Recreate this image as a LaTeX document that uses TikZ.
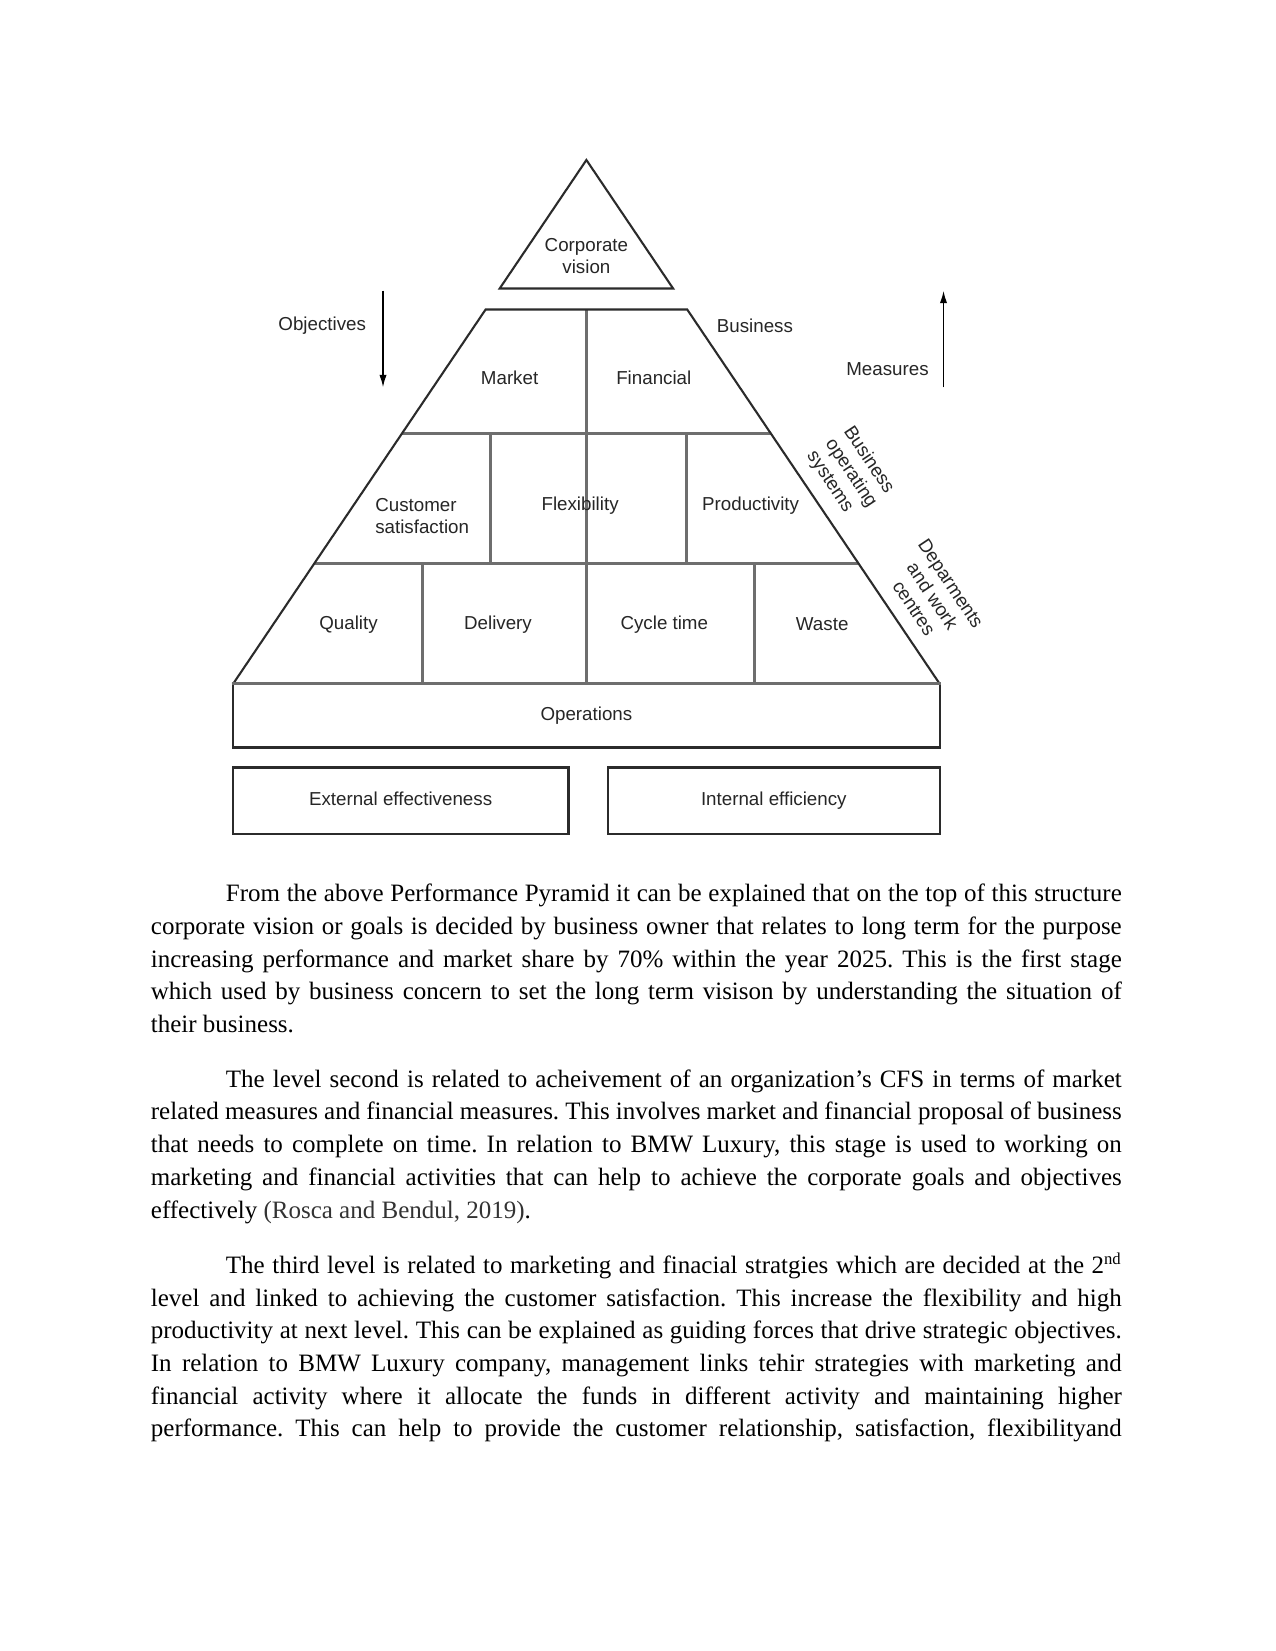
\documentclass[tikz,border=0pt]{standalone}
\usepackage{fontspec}
\setmainfont{Liberation Serif}
\newfontfamily\diagfont{Liberation Sans}
\usetikzlibrary{arrows.meta}
\definecolor{pyrdark}{HTML}{2B2B2B}
\definecolor{pyrgray}{HTML}{6E6E6E}
\definecolor{pyrtext}{HTML}{262626}
\tolerance=10000
\hyphenpenalty=10000
\frenchspacing

\begin{document}
\begin{tikzpicture}[
  x=0.48pt, y=-0.48pt,
  pyredge/.style={draw=pyrdark, line width=1pt},
  pyrline/.style={draw=pyrgray, line width=1.5pt},
  tag/.style={font=\diagfont\fontsize{9}{10.6}\selectfont, text=pyrtext, inner sep=1pt, align=center},
  pyrbox/.style={tag, pyredge, minimum height=31.8pt, text height=6.6pt, text depth=1.9pt},
  measarrow/.style={draw=black, line width=0.8pt, -{Latex[length=6pt,width=3.5pt]}},
  para/.style={anchor=base west, inner sep=0pt, text width=466pt, align=justify,
    font=\fontsize{12}{15.7}\selectfont}
]
\useasboundingbox[fill=white] (0,0) rectangle (1275,1651);

\coordinate (apex) at (586.4,160);
\draw[pyrline] (401.8,433.7) -- (771,433.7);
\draw[pyrline] (314.4,563.2) -- (858.4,563.2);
\draw[pyrline] (586.4,309.5) -- (586.4,684.3);
\draw[pyrline] (490.6,433.7) -- (490.6,563.2);
\draw[pyrline] (686.4,433.7) -- (686.4,563.2);
\draw[pyrline] (422.2,563.2) -- (422.2,684.3);
\draw[pyrline] (754.9,563.2) -- (754.9,684.3);
\draw[pyredge] (apex) -- (499.7,288.5) -- (673.1,288.5) -- cycle;
\draw[pyredge] (232.8,684.3) -- (485.6,309.5) -- (687.2,309.5) -- (940,684.3);

\node[pyrbox, minimum width=339.5pt, minimum height=30.3pt] (ops) at (586.4,715.9) {Operations};
\draw[pyrline] (ops.north west) -- (ops.north east);
\node[pyrbox, minimum width=161.2pt] (ext) at (400.6,800.6) {External effectiveness};
\node[pyrbox, minimum width=159.6pt] (int) at (773.8,800.6) {Internal efficiency};

\node[tag] (vision) at (586.4,255.8) {Corporate\\vision};
\node[tag] (mkt) at (509.6,378) {Market};
\node[tag] (fin) at (653.8,378) {Financial};
\node[tag, align=left] (cust) at (422.2,515.9) {Customer\\satisfaction};
\node[tag] (flex) at (580.1,505.3) {Flexibility};
\node[tag] (prod) at (750.6,505.3) {Productivity};
\node[tag] (qual) at (348.5,624.3) {Quality};
\node[tag] (deliv) at (498,624.3) {Delivery};
\node[tag] (cycle) at (664.3,624.3) {Cycle time};
\node[tag] (waste) at (822.2,624.3) {Waste};

\node[tag] (obj) at (322.2,325.3) {Objectives};
\node[tag] (bus) at (754.9,325.3) {Business};
\node[tag] (meas) at (887.5,369.5) {Measures};
\node[tag, align=left, rotate=-56.3] (bos) at (850.8,473.3) {Business\\operating\\systems};
\node[tag, rotate=-56.3] (dwc) at (932.5,595.8) {Deparments\\and work\\centres};

\coordinate (objtop) at (383,290.6);
\coordinate (objbot) at (383,387.4);
\coordinate (meastop) at (943.5,290.6);
\coordinate (measbot) at (943.5,387.4);
\draw[measarrow] (objtop) -- (objbot);
\draw[measarrow] (measbot) -- (meastop);

\node[para] (para1) at (150.5,901.7) {\hspace*{36pt}From the above Performance Pyramid it can be explained that on the top of this structure\linebreak
corporate vision or goals is decided by business owner that relates to long term for the purpose\linebreak
increasing performance and market share by 70\% within the year 2025. This is the first stage\linebreak
which used by business concern to set the long term visison by understanding the situation of\linebreak
their business.};

\node[para] (para2) at (150.5,1087.2) {\hspace*{36pt}The level second is related to acheivement of an organization’s CFS in terms of market\linebreak
related measures and financial measures. This involves market and financial proposal of business\linebreak
that needs to complete on time. In relation to BMW Luxury, this stage is used to working on\linebreak
marketing and financial activities that can help to achieve the corporate goals and objectives\linebreak
effectively {\color{black!80}(Rosca and Bendul, 2019)}.};

\node[para] (para3) at (150.5,1273.3) {\hspace*{36pt}The third level is related to marketing and finacial stratgies which are decided at the 2\textsuperscript{nd}\linebreak
level and linked to achieving the customer satisfaction. This increase the flexibility and high\linebreak
productivity at next level. This can be explained as guiding forces that drive strategic objectives.\linebreak
In relation to BMW Luxury company, management links tehir strategies with marketing and\linebreak
financial activity where it allocate the funds in different activity and maintaining higher\linebreak
performance. This can help to provide the customer relationship, satisfaction, flexibilityand{\parfillskip=0pt\par}};
\end{tikzpicture}
\end{document}
